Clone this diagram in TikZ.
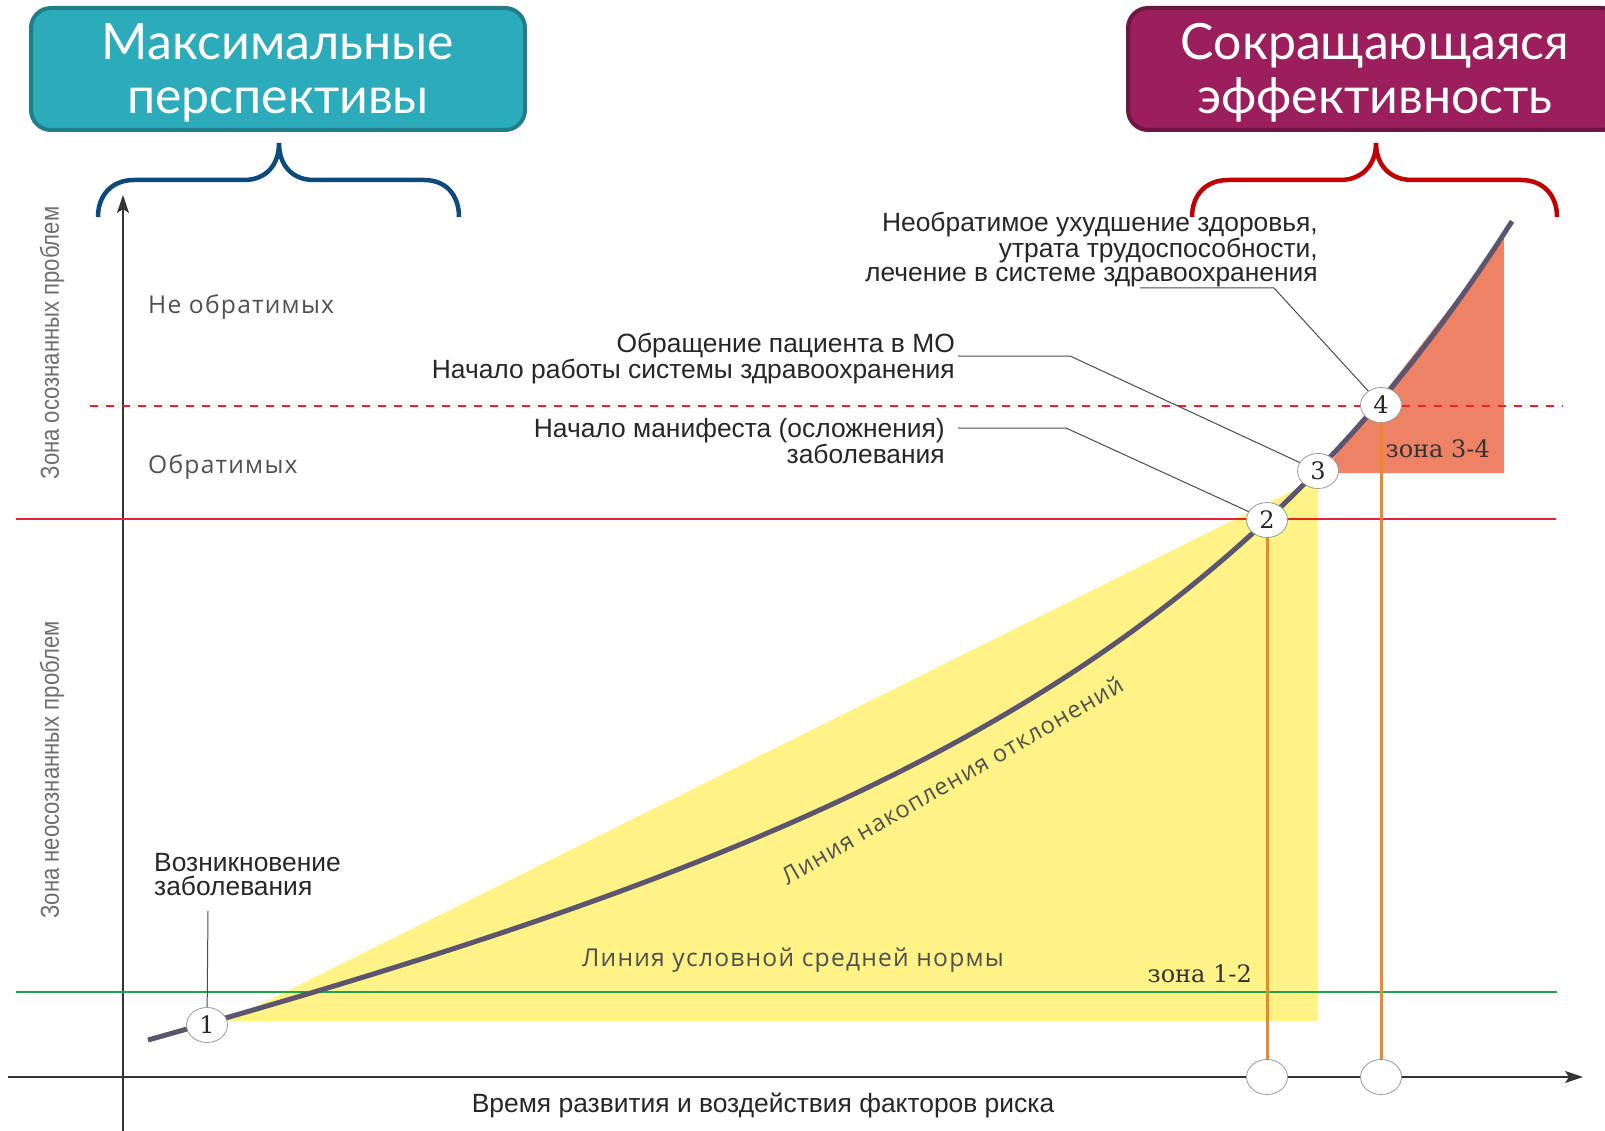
\documentclass[tikz,border=0pt]{standalone}
\usepackage{fontspec}
\setmainfont{Liberation Sans}
\newfontfamily\boxfont{Lato}
\newfontfamily\greyfont[LetterSpace=5]{Open Sans}
\newfontfamily\numfont{DejaVu Serif}
\newfontfamily\sidefont[FakeStretch=0.85]{Liberation Sans}
\usetikzlibrary{calc,positioning,arrows.meta,shapes.geometric}

\definecolor{tealfill}{HTML}{2CABBA}
\definecolor{tealedge}{HTML}{1F7E8A}
\definecolor{plumfill}{HTML}{9A1F5C}
\definecolor{plumedge}{HTML}{6D1642}
\definecolor{braceblue}{HTML}{0B4A7B}
\definecolor{bracered}{HTML}{C00000}
\definecolor{limitred}{HTML}{E5232B}
\definecolor{normgreen}{HTML}{22A24A}
\definecolor{zoneyellow}{HTML}{FFF286}
\definecolor{zonesalmon}{HTML}{EE8264}
\definecolor{droporange}{HTML}{F0862A}
\definecolor{devcurve}{HTML}{5B556F}
\definecolor{labelgrey}{HTML}{505050}
\definecolor{sidegrey}{HTML}{6E6E6E}
\definecolor{calltext}{HTML}{262626}

\begin{document}
\begin{tikzpicture}[x=1pt,y=-1pt]

\tikzstyle{headbox} = [rectangle,rounded corners=20pt,line width=4pt,minimum width=494pt,minimum height=122pt,inner sep=0]%
\tikzstyle{headtext} = [inner sep=0,text=white,align=center,font=\boxfont\fontsize{50}{54}\selectfont]%
\tikzstyle{stage} = [ellipse,draw=black!40,fill=white,line width=0.8pt,minimum width=41pt,minimum height=35pt,inner sep=0,font=\numfont\fontsize{24}{24}\selectfont,text=black!85]%
\tikzstyle{timeoval} = [stage]%
\tikzstyle{axis} = [draw=black!80,line width=1.4pt,-{Stealth[length=18pt,width=12pt,inset=4pt]}]%
\tikzstyle{level} = [line width=2.5pt]%
\tikzstyle{drop} = [draw=droporange,line width=3pt]%
\tikzstyle{devline} = [draw=devcurve,line width=5pt]%
\tikzstyle{callout} = [draw=black!70,line width=1pt]%
\tikzstyle{calltxt} = [inner sep=0,text=calltext,font=\fontsize{26.4}{24}\selectfont]%
\tikzstyle{zonetext} = [inner sep=0,text=labelgrey,font=\greyfont\fontsize{24.6}{26}\selectfont]%
\tikzstyle{sidetext} = [inner sep=0,text=sidegrey,font=\sidefont\fontsize{26}{28}\selectfont]%
\tikzstyle{zonenum} = [inner sep=0,text=black!80,font=\numfont\fontsize{24}{24}\selectfont]%
\tikzstyle{brace} = [line width=4.5pt]%

\useasboundingbox (0,0) rectangle (1605,1131);

% zones
\fill[zoneyellow] (227,1021) -- (1318,478) -- (1318,1021) -- cycle;
\fill[zonesalmon] (1322,473) -- (1504,238) -- (1504,473) -- cycle;

% axes
\coordinate (yb) at (123,1131);
\coordinate (yt) at (123,195);
\coordinate (xb) at (8,1077);
\coordinate (xt) at (1583,1077);
\draw[axis] (yb) -- (yt);
\draw[axis] (xb) -- (xt);

% levels
\coordinate (dashl) at (90,406);
\coordinate (dashr) at (1563,406);
\coordinate (redl) at (16,519);
\coordinate (redr) at (1556,519);
\coordinate (greenl) at (16,992);
\coordinate (greenr) at (1557,992);
\draw[level,limitred,dash pattern=on 8pt off 8pt] (dashl) -- (dashr);
\draw[level,limitred] (redl) -- (redr);
\draw[level,normgreen] (greenl) -- (greenr);

% header boxes
\node[headbox,fill=tealfill,draw=tealedge] (maxbox) at (278,69) {};
\node[headtext] (maxtext) at (278,73) {Максимальные\\перспективы};
\begin{scope}
\clip (0,0) rectangle (1605,1131);
\node[headbox,fill=plumfill,draw=plumedge] (effbox) at (1375,69) {};
\node[headtext] (efftext) at (1375,73) {Сокращающаяся\\эффективность};
\end{scope}

% braces
\draw[brace,braceblue] (98,217) .. controls (98,195) and (112,180) .. (134,180) -- (244,180)
    .. controls (266,180) and (279,165) .. (279,143)
    .. controls (279,165) and (292,180) .. (314,180) -- (424,180)
    .. controls (446,180) and (459,195) .. (459,217);
\draw[brace,bracered] (1192,217) .. controls (1192,195) and (1206,180) .. (1228,180) -- (1340,180)
    .. controls (1362,180) and (1376,165) .. (1376,143)
    .. controls (1376,165) and (1390,180) .. (1412,180) -- (1521,180)
    .. controls (1543,180) and (1557,195) .. (1557,217);

% time marks
\node[timeoval] (t2) at (1267,1077) {};
\node[timeoval] (t4) at (1381,1077) {};

% deviation curve
\draw[devline] plot[domain=148:1512,samples=120,smooth] ({\x},{1040-0.245*(\x-148)-13.1*(exp((\x-148)/375)-1)});

\node[stage] (n1) at (207,1025) {1};
\node[stage] (n2) at (1267,520) {2};
\node[stage] (n3) at (1318,471) {3};
\node[stage] (n4) at (1381,405) {4};

\draw[drop] (n2) -- (t2);
\draw[drop] (n4) -- (t4);

% callouts
\coordinate (c1) at (208,911);
\coordinate (c2a) at (958,428);
\coordinate (c2b) at (1066,428);
\coordinate (c3a) at (958,356);
\coordinate (c3b) at (1070,356);
\coordinate (c4a) at (1140,288);
\coordinate (c4b) at (1274,288);
\draw[callout] (c1) -- (n1);
\draw[callout] (c2a) -- (c2b) -- (n2);
\draw[callout] (c3a) -- (c3b) -- (n3);
\draw[callout] (c4a) -- (c4b) -- (n4);

\node[calltxt,anchor=north west,align=left] (txt1) at (154,853) {Возникновение\\заболевания};
\node[calltxt,anchor=north east,align=right] (txt2) at (945,418) {Начало манифеста (осложнения)\\заболевания};
\node[calltxt,anchor=north east,align=right] (txt3) at (955,333) {Обращение пациента в МО\\Начало работы системы здравоохранения};
\node[calltxt,anchor=north east,align=right] (txt4) at (1318,212) {Необратимое ухудшение здоровья,\\утрата трудоспособности,\\лечение в системе здравоохранения};

% labels
\node[zonetext,anchor=base west] (nonrev) at (148,313) {Не обратимых};
\node[zonetext,anchor=base west] (rev) at (148,473) {Обратимых};
\node[sidetext,rotate=90] (aware) at (52,343) {Зона осознанных проблем};
\node[sidetext,rotate=90] (unaware) at (52,770) {Зона неосознанных проблем};
\node[zonetext] (norm) at (793,960) {Линия условной средней нормы};
\node[zonetext,rotate=30,font=\greyfont\fontsize{23.5}{26}\selectfont] (dev) at (952,780) {Линия накопления отклонений};
\node[zonenum,anchor=base east] (z12) at (1252,982) {зона 1-2};
\node[zonenum,anchor=base east] (z34) at (1490,457) {зона 3-4};
\node[calltxt] (time) at (763,1105) {Время развития и воздействия факторов риска};

\end{tikzpicture}
\end{document}
